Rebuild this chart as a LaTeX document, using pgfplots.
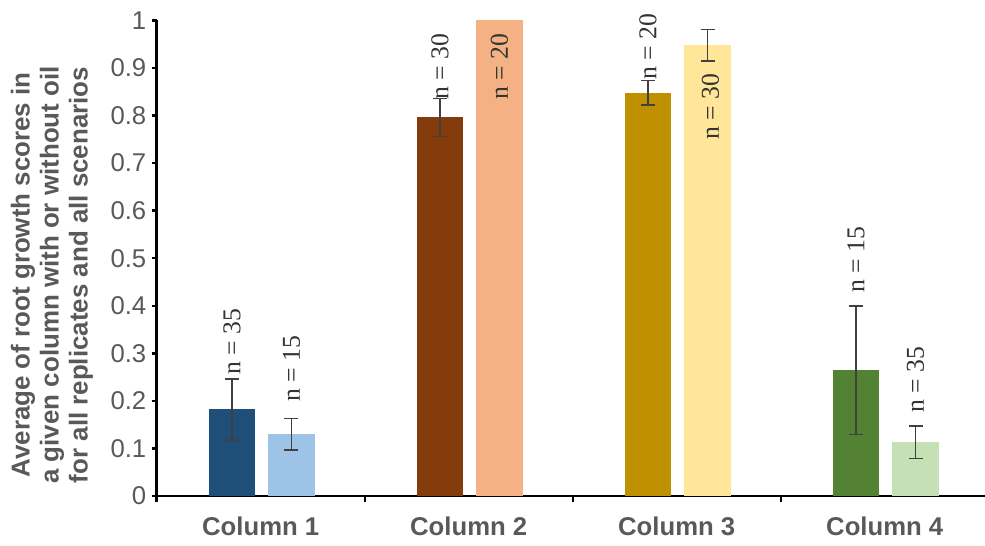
\documentclass[border=0pt]{standalone}
\usepackage{pgfplots}
\pgfplotsset{compat=1.18}
\usepackage{fontspec}
\setmainfont{Liberation Sans}
\newfontfamily\seriffont{Liberation Serif}
\usetikzlibrary{calc}
\definecolor{txtgray}{HTML}{595959}
\definecolor{cAd}{HTML}{1F4E79}
\definecolor{cAl}{HTML}{9DC3E6}
\definecolor{cBd}{HTML}{843C0C}
\definecolor{cBl}{HTML}{F4B183}
\definecolor{cCd}{HTML}{BF9000}
\definecolor{cCl}{HTML}{FFE699}
\definecolor{cDd}{HTML}{548235}
\definecolor{cDl}{HTML}{C5E0B4}
\definecolor{errgray}{HTML}{404040}
\tikzset{nlab/.style={rotate=90, anchor=west, inner sep=0pt, font=\seriffont\fontsize{12.9}{14}\selectfont, text=black!80}}
\begin{document}
\begin{tikzpicture}
\begin{axis}[
  name=ax,
  scale only axis, width=414.15bp, height=237.75bp,
  xmin=0, xmax=3.982, ymin=0, ymax=1,
  axis x line*=bottom, axis y line*=left,
  axis line style={black, line width=1.2bp},
  tick align=outside,
  major tick length=2.5bp, minor tick length=3bp,
  tick style={black, line width=1.2bp},
  ytick={0,0.1,0.2,0.3,0.4,0.5,0.6,0.7,0.8,0.9,1},
  /pgf/number format/assume math mode=true,
  yticklabel style={font=\fontsize{12.9}{14}\selectfont, text=txtgray, xshift=0.8bp},
  xtick={0.5,1.5,2.5,3.5},
  xticklabels={Column 1,Column 2,Column 3,Column 4},
  major x tick style={draw=none},
  minor xtick={0,1,2,3},
  xticklabel style={font=\bfseries\fontsize{12.9}{14}\selectfont, text=txtgray, yshift=-4.5bp},
  ylabel={Average of root growth scores in\\a given column with or without oil\\for all replicates and all scenarios},
  ylabel style={align=center, font=\bfseries\fontsize{13}{14.5}\selectfont, text=txtgray,
    at={(axis description cs:-0.1265,0.4648)}, anchor=center},
  ybar, bar width=0.224, bar shift=0pt,
  clip=false,
  error bars/error bar style={line width=0.8bp, errgray},
  error bars/error mark options={rotate=90, mark size=3.5bp, line width=0.8bp, errgray},
]
\addplot[fill=cAd, draw=none, error bars/.cd, y dir=both, y explicit] coordinates {(0.362,0.182) +- (0,0.064)};
\addplot[fill=cAl, draw=none, error bars/.cd, y dir=both, y explicit] coordinates {(0.648,0.130) +- (0,0.033)};
\addplot[fill=cBd, draw=none, error bars/.cd, y dir=both, y explicit] coordinates {(1.362,0.796) +- (0,0.040)};
\addplot[fill=cBl, draw=none] coordinates {(1.648,1.0)};
\addplot[fill=cCd, draw=none, error bars/.cd, y dir=both, y explicit] coordinates {(2.362,0.848) +- (0,0.026)};
\addplot[fill=cCl, draw=none, error bars/.cd, y dir=both, y explicit] coordinates {(2.648,0.948) +- (0,0.033)};
\addplot[fill=cDd, draw=none, error bars/.cd, y dir=both, y explicit] coordinates {(3.362,0.264) +- (0,0.135)};
\addplot[fill=cDl, draw=none, error bars/.cd, y dir=both, y explicit] coordinates {(3.648,0.113) +- (0,0.034)};
\node[nlab] at (axis cs:0.362,0.2545) {n = 35};
\node[nlab] at (axis cs:0.648,0.198) {n = 15};
\node[nlab] at (axis cs:1.362,0.833) {n = 30};
\node[nlab] at (axis cs:1.648,0.833) {n = 20};
\node[nlab] at (axis cs:2.362,0.875) {n = 20};
\node[nlab] at (axis cs:2.662,0.749) {n = 30};
\node[nlab] at (axis cs:3.362,0.427) {n = 15};
\node[nlab] at (axis cs:3.648,0.1746) {n = 35};
\end{axis}
\pgfresetboundingbox
\path ($(ax.south west)+(-78.35bp,-25bp)$) rectangle ($(ax.north east)+(0,10.25bp)$);
\end{tikzpicture}
\end{document}
